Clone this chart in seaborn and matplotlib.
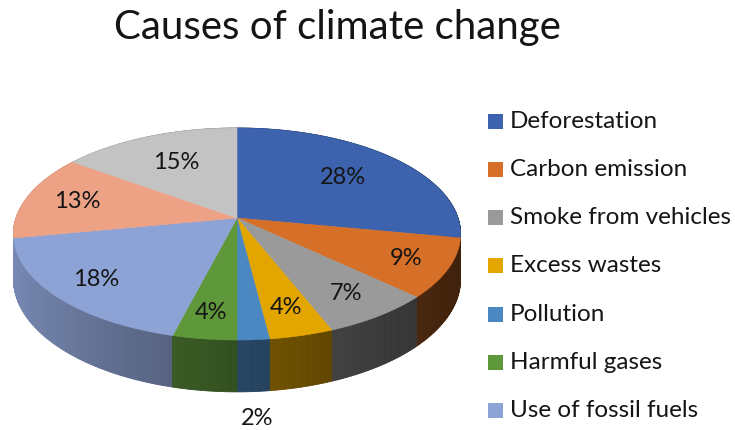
import numpy as np
import matplotlib
matplotlib.use("Agg")
import matplotlib.pyplot as plt
from matplotlib.colors import to_rgb
from matplotlib.collections import PolyCollection
import seaborn as sns

# ---- data -------------------------------------------------------------
legend_labels = ["Deforestation", "Carbon emission", "Smoke from vehicles",
                 "Excess wastes", "Pollution", "Harmful gases",
                 "Use of fossil fuels"]
shares = [28, 9, 7, 4, 2, 4, 18, 13, 15]          # percent, clockwise from 12 o'clock
slice_colors = ["#3d63ae", "#d66f27", "#9a9a9a", "#e3a600", "#4b87c0",
                "#5f983b", "#8ea3d5", "#eda285", "#c3c3c3"]
title = "Causes of climate change"

# ---- style ------------------------------------------------------------
sns.set_theme(style="white")
plt.rcParams["font.family"] = ["Lato", "DejaVu Sans"]
TEXT = "#151515"

# pie geometry (pixels) and mild perspective
CX, CY = 237.0, 218.0
A, B = 221.0, 103.6
K = 0.151
H = 44.0
label_r = [0.66, 0.81, 0.79, 0.79, 1.17, 0.81, 0.80, 0.76, 0.66]


def proj(x, d, h=0.0):
    f = 1.0 / (1.0 + K * d)
    return CX + A * x * f, CY - B * d * f + H * h * f


def side_shade(c):
    t = ((1 - c) / 2.0) ** 1.3
    return 0.30 + 0.55 * t


fig = plt.figure(figsize=(7.35, 4.30), dpi=100)
ax = fig.add_axes([0, 0, 1, 1])
ax.set_xlim(0, 735)
ax.set_ylim(430, 0)
ax.axis("off")

vals = np.array(shares, dtype=float)
bounds = np.concatenate([[0], np.cumsum(vals)]) / vals.sum()
angles = np.deg2rad(90 - 360 * bounds)

# outer wall, drawn as thin strips from back to front
strips, strip_cols, strip_depth = [], [], []
for i in range(len(vals)):
    a0, a1 = angles[i], angles[i + 1]
    n = max(4, int(abs(a1 - a0) / np.deg2rad(0.5)))
    ts = np.linspace(a0, a1, n + 1)
    base = np.array(to_rgb(slice_colors[i]))
    for j in range(n):
        ta, tb = ts[j], ts[j + 1]
        p1 = proj(np.cos(ta), np.sin(ta), 0)
        p2 = proj(np.cos(tb), np.sin(tb), 0)
        p3 = proj(np.cos(tb), np.sin(tb), 1)
        p4 = proj(np.cos(ta), np.sin(ta), 1)
        tm = 0.5 * (ta + tb)
        strips.append([p1, p2, p3, p4])
        strip_cols.append(np.clip(base * side_shade(np.cos(tm)), 0, 1))
        strip_depth.append(np.sin(tm))
order = np.argsort(strip_depth)[::-1]
wall = PolyCollection([strips[k] for k in order],
                      facecolors=[strip_cols[k] for k in order],
                      edgecolors=[strip_cols[k] for k in order],
                      linewidths=0.6)
ax.add_collection(wall)

# top faces
for i in range(len(vals)):
    ts = np.linspace(angles[i], angles[i + 1], 200)
    pts = [proj(0, 0)] + [proj(np.cos(t), np.sin(t)) for t in ts]
    ax.add_patch(plt.Polygon(pts, closed=True, facecolor=slice_colors[i],
                             edgecolor=slice_colors[i], linewidth=0.4))

# percentage labels
for i, v in enumerate(vals):
    tm = 0.5 * (angles[i] + angles[i + 1])
    r = label_r[i]
    h = 1.0 if r > 1 else 0.0
    x, y = proj(r * np.cos(tm), r * np.sin(tm), h)
    ax.text(x, y, f"{v:.0f}%", ha="center", va="center",
            fontsize=17, color=TEXT)

# title
ax.text(337, 27, title, ha="center", va="center", fontsize=29, color=TEXT)

# legend
for i, lab in enumerate(legend_labels):
    y = 121 + i * 48.3
    ax.add_patch(plt.Rectangle((488, y - 7.5), 15, 15,
                               facecolor=slice_colors[i], edgecolor="none"))
    ax.text(510, y, lab, ha="left", va="center", fontsize=17.5, color=TEXT)

fig.savefig("out.png", dpi=100, facecolor="white")
